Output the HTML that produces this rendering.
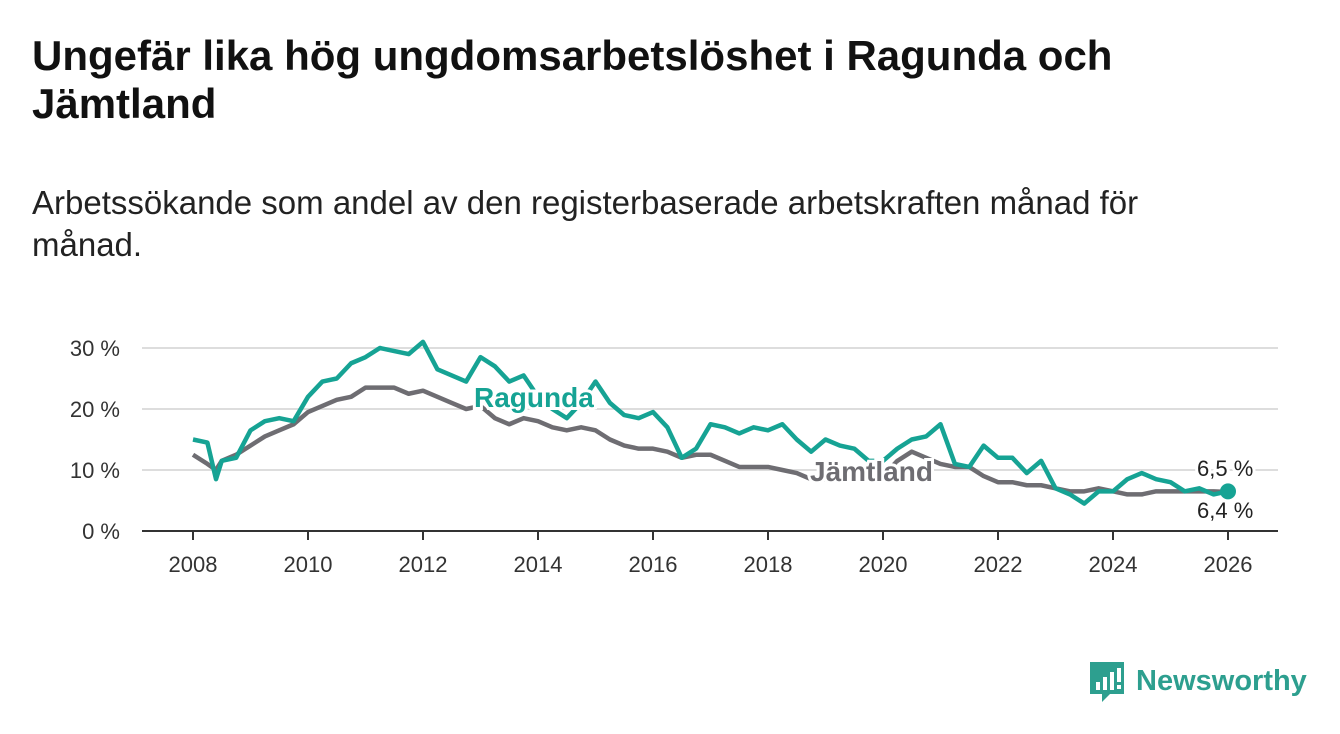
<!DOCTYPE html>
<html><head><meta charset="utf-8"><style>
body{margin:0;width:1340px;height:734px;background:#fff;font-family:"Liberation Sans",sans-serif;overflow:hidden;position:relative}
h1{position:absolute;left:32px;top:32px;margin:0;font-size:42px;line-height:48px;font-weight:bold;color:#111;width:1170px}
p{position:absolute;left:32px;top:182px;margin:0;font-size:33px;line-height:42px;color:#222;width:1180px}
svg{position:absolute;left:0;top:0}
</style></head><body>
<h1>Ungefär lika hög ungdomsarbetslöshet i Ragunda och Jämtland</h1>
<p>Arbetssökande som andel av den registerbaserade arbetskraften månad för månad.</p>
<svg id="c" width="1340" height="734"></svg>
<script>
const years=[2008,2008.25,2008.4,2008.5,2008.75,2009,2009.25,2009.5,2009.75,2010,2010.25,2010.5,2010.75,2011,2011.25,2011.5,2011.75,2012,2012.25,2012.5,2012.75,2013,2013.25,2013.5,2013.75,2014,2014.25,2014.5,2014.75,2015,2015.25,2015.5,2015.75,2016,2016.25,2016.5,2016.75,2017,2017.25,2017.5,2017.75,2018,2018.25,2018.5,2018.75,2019,2019.25,2019.5,2019.75,2020,2020.25,2020.5,2020.75,2021,2021.25,2021.5,2021.75,2022,2022.25,2022.5,2022.75,2023,2023.25,2023.5,2023.75,2024,2024.25,2024.5,2024.75,2025,2025.25,2025.5,2025.75,2026];
const ragunda=[15,14.5,8.5,11.5,12,16.5,18,18.5,18,22,24.5,25,27.5,28.5,30,29.5,29,31,26.5,25.5,24.5,28.5,27,24.5,25.5,22,20,18.5,21,24.5,21,19,18.5,19.5,17,12,13.5,17.5,17,16,17,16.5,17.5,15,13,15,14,13.5,11.5,11.5,13.5,15,15.5,17.5,11,10.5,14,12,12,9.5,11.5,7,6,4.5,6.5,6.5,8.5,9.5,8.5,8,6.5,7,6,6.5];
const jamtland=[12.5,11,10,11.5,12.5,14,15.5,16.5,17.5,19.5,20.5,21.5,22,23.5,23.5,23.5,22.5,23,22,21,20,20.5,18.5,17.5,18.5,18,17,16.5,17,16.5,15,14,13.5,13.5,13,12,12.5,12.5,11.5,10.5,10.5,10.5,10,9.5,8.5,8.5,8.5,8.5,8.5,9,11.5,13,12,11,10.5,10.5,9,8,8,7.5,7.5,7,6.5,6.5,7,6.5,6,6,6.5,6.5,6.5,6.5,6.5,6.4];
const yTicks=[0,10,20,30];
const xTicks=[2008,2010,2012,2014,2016,2018,2020,2022,2024,2026];
const X=v=>193+(v-2008)*57.5, Y=v=>531-v*6.1;
const s=document.getElementById('c'),N='http://www.w3.org/2000/svg';
function el(t,a,p){const e=document.createElementNS(N,t);for(const k in a)e.setAttribute(k,a[k]);(p||s).appendChild(e);return e;}
yTicks.forEach(t=>{
 const g=el('line',{x1:142,x2:1278,y1:Y(t),y2:Y(t),stroke:t?'#ddd':'#333','stroke-width':2});
 
 
 const l=el('text',{x:120,y:Y(t)+8,'text-anchor':'end','font-size':22,fill:'#333'});l.textContent=t+' %';
 
 
});
xTicks.forEach(t=>{
 const m=el('line',{x1:X(t),x2:X(t),y1:531,y2:540,stroke:'#333','stroke-width':2});
 
 
 const l=el('text',{x:X(t),y:572,'text-anchor':'middle','font-size':22,fill:'#333'});l.textContent=t;
 
 
});
function line(d,c,n){const p=el('path',{d:d.map((v,i)=>(i?'L':'M')+X(years[i])+','+Y(v)).join(''),fill:'none',stroke:c,'stroke-width':4.5,'stroke-linejoin':'round'});
 
 }
line(jamtland,'#6e6d72','jamtland-line');
line(ragunda,'#16a394','ragunda-line');
function lab(x,y,t,c,n,w,sz){const e=el('text',{x:x,y:y,'font-size':sz||28,'font-weight':w||'bold',fill:c,stroke:'#fff','stroke-width':6,'paint-order':'stroke'});e.textContent=t;
 
 }
lab(474,407,'Ragunda','#16a394','ragunda-label');
lab(810,481,'Jämtland','#6e6d72','jamtland-label');
const d=el('circle',{cx:X(2026),cy:Y(ragunda[ragunda.length-1]),r:8,fill:'#16a394'});


lab(1197,476,'6,5 %','#222','ragunda-end-value','normal',22);
lab(1197,518,'6,4 %','#222','jamtland-end-value','normal',22);
const lg=el('g',{});


el('path',{d:'M1090 662h34v32h-14l-8 8v-8h-12z',fill:'#2d9f8f'},lg);
[[1096,8],[1103,13],[1110,18]].forEach(b=>el('rect',{x:b[0],y:690-b[1],width:4,height:b[1],fill:'#fff'},lg));
el('rect',{x:1117,y:668,width:4,height:14,fill:'#fff'},lg);
el('rect',{x:1117,y:685,width:4,height:4,fill:'#fff'},lg);
const tx=el('text',{x:1136,y:690,'font-size':29,'font-weight':'bold',fill:'#2d9f8f'},lg);tx.textContent='Newsworthy';
</script>
</body></html>
